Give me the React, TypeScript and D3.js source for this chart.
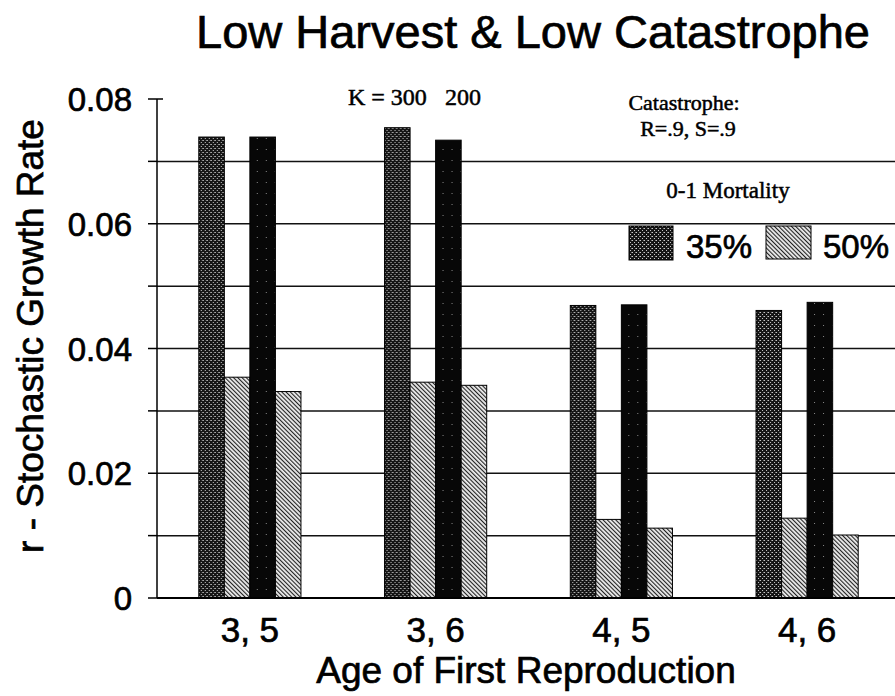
import React from "react";
import * as d3 from "d3";

const categories = ["3, 5", "3, 6", "4, 5", "4, 6"];
const seriesKeys = ["m35K300", "m50K300", "m35K200", "m50K200"];
const mort35K300 = [0.0739, 0.0754, 0.0469, 0.0461];
const mort50K300 = [0.0354, 0.0346, 0.0126, 0.0128];
const mort35K200 = [0.0739, 0.0734, 0.0470, 0.0474];
const mort50K200 = [0.0331, 0.0341, 0.0112, 0.0101];
const yTickLabels = [0, 0.02, 0.04, 0.06, 0.08];
const gridValues = [0.01, 0.02, 0.03, 0.04, 0.05, 0.06, 0.07];
const tickValues = [0, 0.01, 0.02, 0.03, 0.04, 0.05, 0.06, 0.07, 0.08];

const seriesValues: Record<string, number[]> = {
  m35K300: mort35K300,
  m50K300: mort50K300,
  m35K200: mort35K200,
  m50K200: mort50K200,
};
const seriesFill: Record<string, string> = {
  m35K300: "url(#stipple)",
  m50K300: "url(#hatch)",
  m35K200: "url(#blackdots)",
  m50K200: "url(#hatch)",
};

const W = 895;
const H = 696;
const axisX = 157;
const yTop = 99;
const yBottom = 598;
const sans = "'Liberation Sans', Arial, sans-serif";
const serif = "'Liberation Serif', 'Times New Roman', serif";
const inkSans = { stroke: "#000", strokeWidth: 0.7 };
const inkSerif = { stroke: "#000", strokeWidth: 0.5 };

export default function App() {
  const y = d3.scaleLinear().domain([0, 0.08]).range([yBottom, yTop]);
  const x = d3
    .scaleBand<string>()
    .domain(categories)
    .range([axisX, 900])
    .paddingInner(0.45)
    .paddingOuter(0.225);
  const xs = d3
    .scaleBand<string>()
    .domain(seriesKeys)
    .range([0, x.bandwidth()])
    .padding(0);

  return (
    <svg
      width={W}
      height={H}
      style={{ position: "absolute", left: 0, top: 0, background: "#fff" }}
    >
      <defs>
        <pattern id="stipple" width="4" height="4" patternUnits="userSpaceOnUse">
          <rect width="4" height="4" fill="#151515" />
          <rect x="0" y="0" width="1" height="1" fill="#c8c8c8" />
          <rect x="2" y="2" width="1" height="1" fill="#c8c8c8" />
          <rect x="3" y="0" width="1" height="1" fill="#777" />
        </pattern>
        <pattern id="blackdots" width="9" height="11" patternUnits="userSpaceOnUse">
          <rect width="9" height="11" fill="#070707" />
          <rect x="4" y="6" width="1" height="1" fill="#888" />
        </pattern>
        <pattern
          id="hatch"
          width="3"
          height="3"
          patternUnits="userSpaceOnUse"
          patternTransform="rotate(-45)"
        >
          <rect width="3" height="3" fill="#ececec" />
          <rect x="0" y="0" width="1.1" height="3" fill="#222" />
        </pattern>
      </defs>

      {/* title */}
      <text
        x={533}
        y={48}
        textAnchor="middle"
        fontFamily={sans}
        fontSize={47}
        fill="#000"
        {...inkSans}
      >
        Low Harvest &amp; Low Catastrophe
      </text>

      {/* gridlines */}
      {gridValues.map((v) => (
        <line
          key={"g" + v}
          x1={axisX}
          x2={W}
          y1={y(v)}
          y2={y(v)}
          stroke="#111"
          strokeWidth={1.5}
        />
      ))}

      {/* bars */}
      {categories.map((c, i) => (
        <g key={c} transform={`translate(${x(c)},0)`}>
          {seriesKeys.map((k) => {
            const v = seriesValues[k][i];
            return (
              <rect
                key={k}
                x={xs(k)}
                y={y(v)}
                width={xs.bandwidth()}
                height={y(0) - y(v)}
                fill={seriesFill[k]}
                stroke="#000"
                strokeWidth={1}
              />
            );
          })}
        </g>
      ))}

      {/* axes */}
      <line x1={axisX} x2={axisX} y1={yTop} y2={yBottom} stroke="#000" strokeWidth={1.5} />
      <line x1={axisX} x2={W} y1={yBottom} y2={yBottom} stroke="#000" strokeWidth={1.8} />
      {tickValues.map((v) => (
        <line
          key={"t" + v}
          x1={axisX - 9}
          x2={v === 0.08 ? axisX + 6 : axisX}
          y1={y(v)}
          y2={y(v)}
          stroke="#000"
          strokeWidth={1.5}
        />
      ))}
      {yTickLabels.map((v) => (
        <text
          key={"l" + v}
          x={132}
          y={y(v) + 12}
          textAnchor="end"
          fontFamily={sans}
          fontSize={33}
          fill="#000"
          {...inkSans}
        >
          {v === 0 ? "0" : d3.format(".2f")(v)}
        </text>
      ))}

      {/* x labels */}
      {categories.map((c) => (
        <text
          key={"x" + c}
          x={(x(c) as number) + x.bandwidth() / 2}
          y={642}
          textAnchor="middle"
          fontFamily={sans}
          fontSize={35}
          fill="#000"
          {...inkSans}
        >
          {c}
        </text>
      ))}
      <text
        x={526}
        y={683}
        textAnchor="middle"
        fontFamily={sans}
        fontSize={37}
        fill="#000"
        {...inkSans}
      >
        Age of First Reproduction
      </text>
      <text
        transform="translate(43,336) rotate(-90)"
        textAnchor="middle"
        fontFamily={sans}
        fontSize={37}
        fill="#000"
        {...inkSans}
      >
        r - Stochastic Growth Rate
      </text>

      {/* annotations */}
      <text x={348} y={105} fontFamily={serif} fontSize={24} fill="#000" {...inkSerif}>
        K = 300
      </text>
      <text x={445} y={105} fontFamily={serif} fontSize={24} fill="#000" {...inkSerif}>
        200
      </text>
      <text x={684} y={110} textAnchor="middle" fontFamily={serif} fontSize={22} fill="#000" {...inkSerif}>
        Catastrophe:
      </text>
      <text x={688} y={136} textAnchor="middle" fontFamily={serif} fontSize={22} fill="#000" {...inkSerif}>
        R=.9, S=.9
      </text>
      <text x={728} y={198} textAnchor="middle" fontFamily={serif} fontSize={23} fill="#000" {...inkSerif}>
        0-1 Mortality
      </text>

      {/* legend */}
      <rect x={629} y={226} width={44} height={34} fill="url(#stipple)" stroke="#000" strokeWidth={1} />
      <text x={686} y={258} fontFamily={sans} fontSize={33} fill="#000" {...inkSans}>
        35%
      </text>
      <rect x={766} y={226} width={45} height={33} fill="url(#hatch)" stroke="#000" strokeWidth={1} />
      <text x={823} y={258} fontFamily={sans} fontSize={33} fill="#000" {...inkSans}>
        50%
      </text>
    </svg>
  );
}
